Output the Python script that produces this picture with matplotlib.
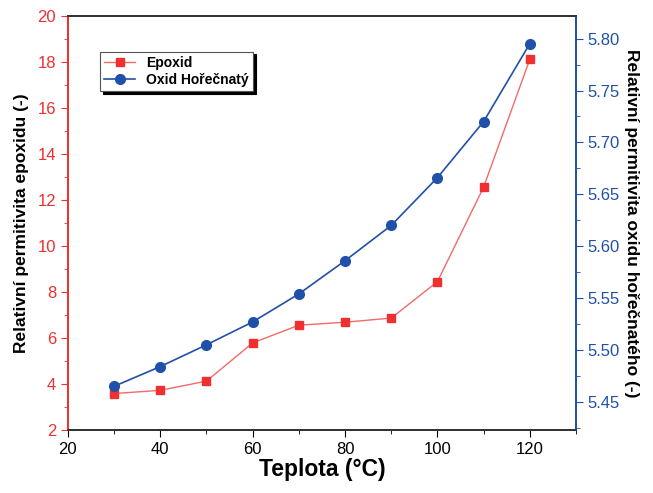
import matplotlib
matplotlib.use("Agg")
import matplotlib.pyplot as plt
from matplotlib.ticker import MultipleLocator, FormatStrFormatter

plt.rcParams["font.family"] = ["Liberation Sans", "DejaVu Sans"]

# data
teplota = [30, 40, 50, 60, 70, 80, 90, 100, 110, 120]
epoxid = [3.58, 3.72, 4.12, 5.78, 6.55, 6.68, 6.86, 8.44, 12.55, 18.1]
oxid_mg = [5.465, 5.484, 5.505, 5.527, 5.554, 5.586, 5.620, 5.666, 5.720, 5.795]

RED = "#EE3030"
BLUE = "#2050A8"

fig = plt.figure(figsize=(6.53, 4.93), dpi=100)
ax = fig.add_axes([0.104, 0.128, 0.778, 0.840])
ax2 = ax.twinx()

l1, = ax.plot(teplota, epoxid, color="#F26A6A", linewidth=1.0, marker="s",
              markersize=6, markerfacecolor=RED, markeredgecolor=RED, label="Epoxid")
l2, = ax2.plot(teplota, oxid_mg, color=BLUE, linewidth=1.2, marker="o",
               markersize=7, markerfacecolor=BLUE, markeredgecolor=BLUE,
               label="Oxid Hořečnatý")

ax.set_xlim(20, 130)
ax.set_ylim(2, 20)
ax2.set_ylim(5.423, 5.822)

ax.xaxis.set_major_locator(MultipleLocator(20))
ax.xaxis.set_minor_locator(MultipleLocator(10))
ax.yaxis.set_major_locator(MultipleLocator(2))
ax.yaxis.set_minor_locator(MultipleLocator(1))
ax2.yaxis.set_major_locator(MultipleLocator(0.05))
ax2.yaxis.set_minor_locator(MultipleLocator(0.025))
ax2.yaxis.set_major_formatter(FormatStrFormatter("%.2f"))

ax.tick_params(axis="x", which="both", direction="out", colors="black", labelsize=12)
ax.tick_params(axis="x", which="major", length=5)
ax.tick_params(axis="x", which="minor", length=3)
ax.tick_params(axis="y", which="both", direction="out", colors=RED, labelsize=12)
ax.tick_params(axis="y", which="major", length=5)
ax.tick_params(axis="y", which="minor", length=3)
ax2.tick_params(axis="y", which="both", direction="out", colors=BLUE, labelsize=12)
ax2.tick_params(axis="y", which="major", length=5)
ax2.tick_params(axis="y", which="minor", length=3)

for a in (ax, ax2):
    a.spines["left"].set_color(RED)
    a.spines["right"].set_color(BLUE)
    a.spines["top"].set_color("#333333")
    a.spines["bottom"].set_color("#333333")
    for s in a.spines.values():
        s.set_linewidth(1.3)

ax.set_xlabel("Teplota (°C)", fontsize=16.5, fontweight="bold", labelpad=1)
ax.set_ylabel("Relativní permitivita epoxidu (-)", fontsize=12.5, fontweight="bold",
              labelpad=6)
ax2.set_ylabel("Relativní permitivita oxidu hořečnatého (-)", fontsize=12.5,
               fontweight="bold", rotation=270, labelpad=14)

leg = ax.legend(handles=[l1, l2], loc="upper left", bbox_to_anchor=(0.05, 0.93),
                fontsize=10, frameon=True, fancybox=False, borderpad=0.3,
                handlelength=2.2, labelspacing=0.2,
                shadow={"color": "black", "alpha": 1.0})
leg.get_frame().set_edgecolor("#555555")
leg.get_frame().set_linewidth(0.8)
for t in leg.get_texts():
    t.set_fontweight("bold")

fig.savefig("out.png", dpi=100)
